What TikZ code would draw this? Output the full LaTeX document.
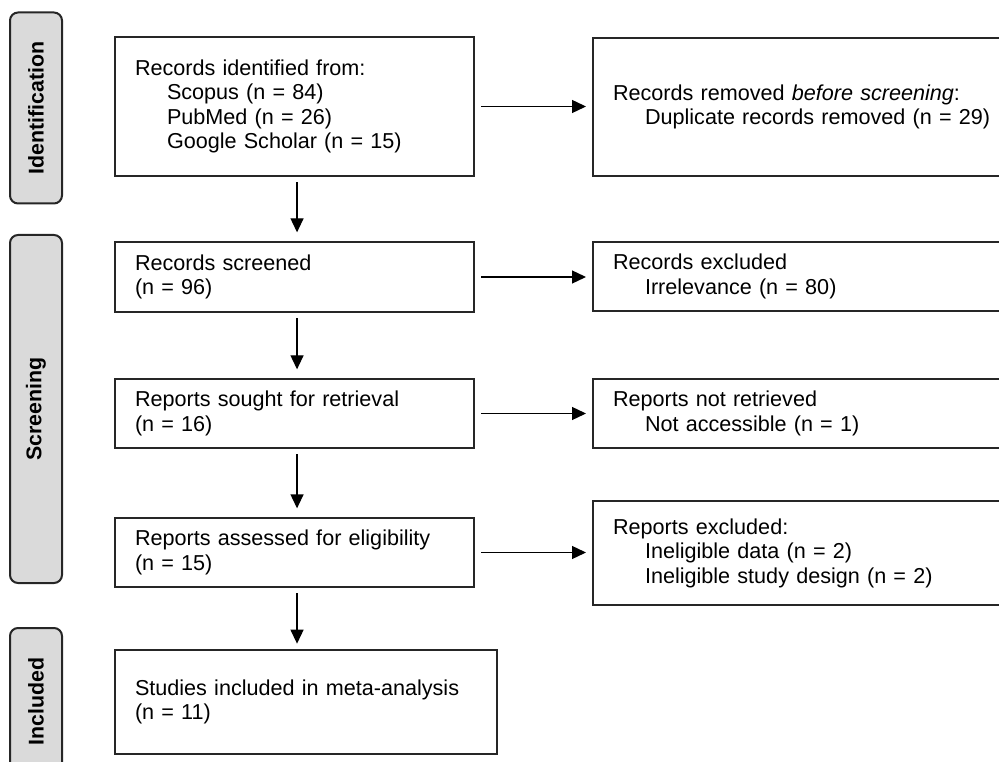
\documentclass[tikz,border=0pt]{standalone}
\usepackage{fontspec}
\setmainfont{Liberation Sans}
\usetikzlibrary{arrows.meta}
\definecolor{edgecol}{HTML}{262626}
\definecolor{barfill}{HTML}{DADADA}
\begin{document}
\begin{tikzpicture}[x=0.75pt,y=-0.75pt,
  box/.style={draw=edgecol, line width=1.5pt, rectangle, align=left,
    inner xsep=15pt, inner ysep=0pt, anchor=center,
    font=\fontsize{16.2pt}{18.4pt}\selectfont},
  leftbox/.style={box, minimum width=269.25pt, text width=239.25pt},
  rightbox/.style={box, minimum width=327.75pt, text width=297.75pt},
  bar/.style={draw=edgecol, line width=1.5pt, fill=barfill, rounded corners=6pt,
    rotate=90, minimum height=39pt, inner sep=0pt,
    font=\fontsize{16pt}{18pt}\selectfont\bfseries},
  flow/.style={draw=black, line width=1pt,
    -{Triangle[length=10.5pt,width=9.75pt]}},
]
\useasboundingbox (0,0) rectangle (999,762);
\clip (0,0) rectangle (999,762);
\newcommand{\ind}{\hspace*{24pt}}

% phase bars
\node[bar, minimum width=143.25pt] (idbar) at (36,108) {Identification};
\node[bar, minimum width=261pt] (scbar) at (36,409) {Screening};
\node[bar, minimum width=110.25pt] (inbar) at (36,701.5) {Included};

% left column
\node[leftbox, minimum height=104.25pt] (b1) at (294.5,106.5)
  {Records identified from:\\\ind Scopus (n = 84)\\\ind PubMed (n = 26)\\\ind Google Scholar (n = 15)};
\node[leftbox, minimum height=52.5pt] (b2) at (294.5,277)
  {Records screened\\(n = 96)};
\node[leftbox, minimum height=51.75pt] (b3) at (294.5,413.5)
  {Reports sought for retrieval\\(n = 16)};
\node[leftbox, minimum height=51.75pt] (b4) at (294.5,552.5)
  {Reports assessed for eligibility\\(n = 15)};
\node[box, minimum width=286.5pt, text width=256.5pt, minimum height=78pt] (b5) at (306,702)
  {Studies included in meta-analysis\\(n = 11)};

% right column
\node[rightbox, minimum height=103.5pt] (r1) at (811.5,107)
  {Records removed \textit{before screening}:\\\ind Duplicate records removed (n = 29)};
\node[rightbox, minimum height=51.75pt] (r2) at (811.5,276.5)
  {Records excluded\\\ind Irrelevance (n = 80)};
\node[rightbox, minimum height=51.75pt] (r3) at (811.5,413.5)
  {Reports not retrieved\\\ind Not accessible (n = 1)};
\node[rightbox, minimum height=78pt] (r4) at (811.5,553)
  {Reports excluded:\\\ind Ineligible data (n = 2)\\\ind Ineligible study design (n = 2)};

% connectors
\draw[flow, shorten <=4pt, shorten >=6.5pt] ([xshift=1.9pt]b1.south) -- ([xshift=1.9pt]b1.south |- b2.north);
\draw[flow, shorten <=4pt, shorten >=6.5pt] ([xshift=1.9pt]b2.south) -- ([xshift=1.9pt]b2.south |- b3.north);
\draw[flow, shorten <=4pt, shorten >=6.5pt] ([xshift=1.9pt]b3.south) -- ([xshift=1.9pt]b3.south |- b4.north);
\draw[flow, shorten <=4pt, shorten >=4pt] ([xshift=1.9pt]b4.south) -- ([xshift=1.9pt]b4.south |- b5.north);

\draw[flow, shorten <=4.5pt, shorten >=4.5pt] (b1.east) -- (b1.east -| r1.west);
\draw[flow, shorten <=4.5pt, shorten >=4.5pt] (b2.east) -- (b2.east -| r2.west);
\draw[flow, shorten <=4.5pt, shorten >=4.5pt] (b3.east) -- (b3.east -| r3.west);
\draw[flow, shorten <=4.5pt, shorten >=4.5pt] (b4.east) -- (b4.east -| r4.west);
\end{tikzpicture}
\end{document}
